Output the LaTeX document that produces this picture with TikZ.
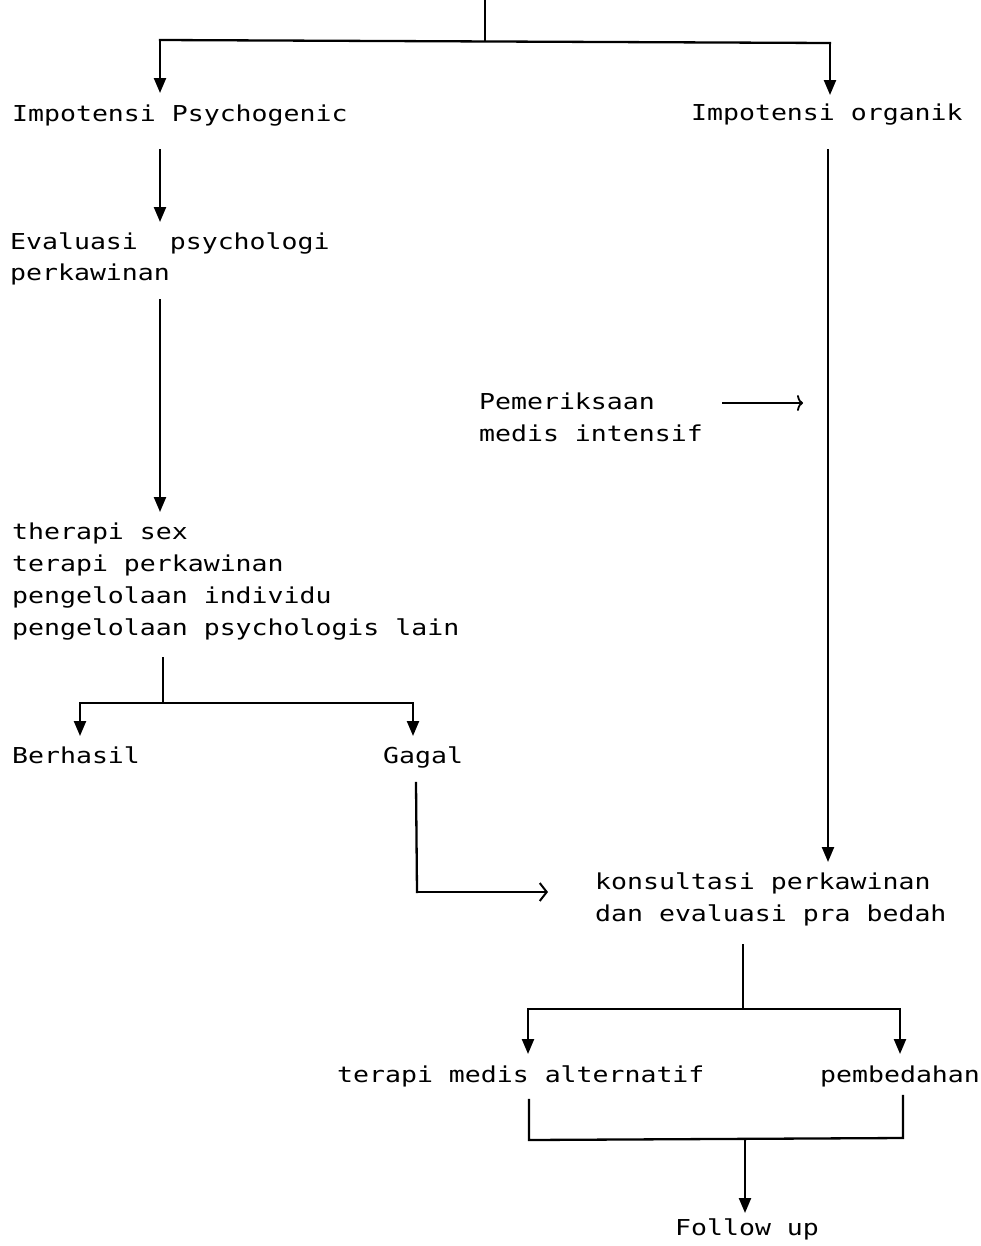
\documentclass[tikz,border=0pt]{standalone}
\usepackage{fontspec}
\usetikzlibrary{arrows.meta}
\newfontfamily\dotfont[FakeStretch=1.21]{DejaVu Sans Mono}
\tikzset{
  lbl/.style={anchor=base west, inner sep=0pt, font=\dotfont\fontsize{22}{22}\selectfont},
  ln/.style={line width=2.3bp, line cap=rect},
  arr/.style={ln, -{Triangle[length=15pt,width=12pt]}},
  openarr/.style={ln, -{Straight Barb[length=7pt,width=18pt,line width=2bp]}},
  curvearr/.style={line width=1.8bp, -{To[length=6pt,width=16pt]}},
}
\begin{document}
\begin{tikzpicture}[x=1bp,y=-1bp]
\useasboundingbox (0,0) rectangle (981,1246);
\fill[white] (0,0) rectangle (981,1246);

% text nodes
\node[lbl] (psy) at (12,121) {Impotensi Psychogenic};
\node[lbl] (org) at (691,120) {Impotensi organik};
\node[lbl] (eva) at (10,249) {Evaluasi\ \ psychologi};
\node[lbl] (eva2) at (10,280) {perkawinan};
\node[lbl] (t1) at (12,539) {therapi sex};
\node[lbl] (t2) at (12,571) {terapi perkawinan};
\node[lbl] (t3) at (12,603) {pengelolaan individu};
\node[lbl] (t4) at (12,635) {pengelolaan psychologis lain};
\node[lbl] (ber) at (12,763) {Berhasil};
\node[lbl] (gag) at (383,763) {Gagal};
\node[lbl] (pem) at (479,409) {Pemeriksaan};
\node[lbl] (pem2) at (479,441) {medis intensif};
\node[lbl] (kon) at (595,889) {konsultasi perkawinan};
\node[lbl] (kon2) at (595,921) {dan evaluasi pra bedah};
\node[lbl] (alt) at (337,1082) {terapi medis alternatif};
\node[lbl] (bed) at (820,1082) {pembedahan};
\node[lbl] (fol) at (675,1235) {Follow up};

% coordinates
\coordinate (top) at (485,0);
\coordinate (topj) at (485,41);
\coordinate (tl) at (160,40);
\coordinate (tr) at (830,43);
\coordinate (psyTip) at (160,93);
\coordinate (orgTip) at (830,95);
\coordinate (psyOut) at (160,150);
\coordinate (evaIn) at (160,222);
\coordinate (evaOut) at (160,300);
\coordinate (tIn) at (160,512);
\coordinate (tOut) at (163,658);
\coordinate (tj) at (163,703);
\coordinate (bl) at (80,703);
\coordinate (br) at (413,703);
\coordinate (berTip) at (80,736);
\coordinate (gagTip) at (413,736);
\coordinate (gagOut) at (416,783);
\coordinate (gagCorner) at (417,892);
\coordinate (konL) at (548,892);
\coordinate (orgOut) at (828,150);
\coordinate (konTop) at (828,862);
\coordinate (pemA) at (722,403);
\coordinate (pemB) at (803,403);
\coordinate (konOut) at (743,945);
\coordinate (kj) at (743,1009);
\coordinate (kl) at (528,1009);
\coordinate (kr) at (900,1009);
\coordinate (altTip) at (528,1054);
\coordinate (bedTip) at (900,1054);
\coordinate (altOut) at (529,1100);
\coordinate (altLow) at (529,1140);
\coordinate (bedOut) at (903,1096);
\coordinate (bedLow) at (903,1138);
\coordinate (fj) at (745,1139);
\coordinate (folTip) at (745,1213);

% connectors
\draw[ln] (top) -- (topj);
\draw[ln] (tl) -- (tr);
\draw[arr] (tl) -- (psyTip);
\draw[arr] (tr) -- (orgTip);
\draw[arr] (psyOut) -- (evaIn);
\draw[arr] (evaOut) -- (tIn);
\draw[ln] (tOut) -- (tj);
\draw[ln] (bl) -- (br);
\draw[arr] (bl) -- (berTip);
\draw[arr] (br) -- (gagTip);
\draw[ln] (gagOut) -- (gagCorner);
\draw[openarr] (gagCorner) -- (konL);
\draw[arr] (orgOut) -- (konTop);
\draw[curvearr] (pemA) -- (pemB);
\draw[ln] (konOut) -- (kj);
\draw[ln] (kl) -- (kr);
\draw[arr] (kl) -- (altTip);
\draw[arr] (kr) -- (bedTip);
\draw[ln] (altOut) -- (altLow) -- (bedLow) -- (bedOut);
\draw[arr] (fj) -- (folTip);
\end{tikzpicture}
\end{document}
